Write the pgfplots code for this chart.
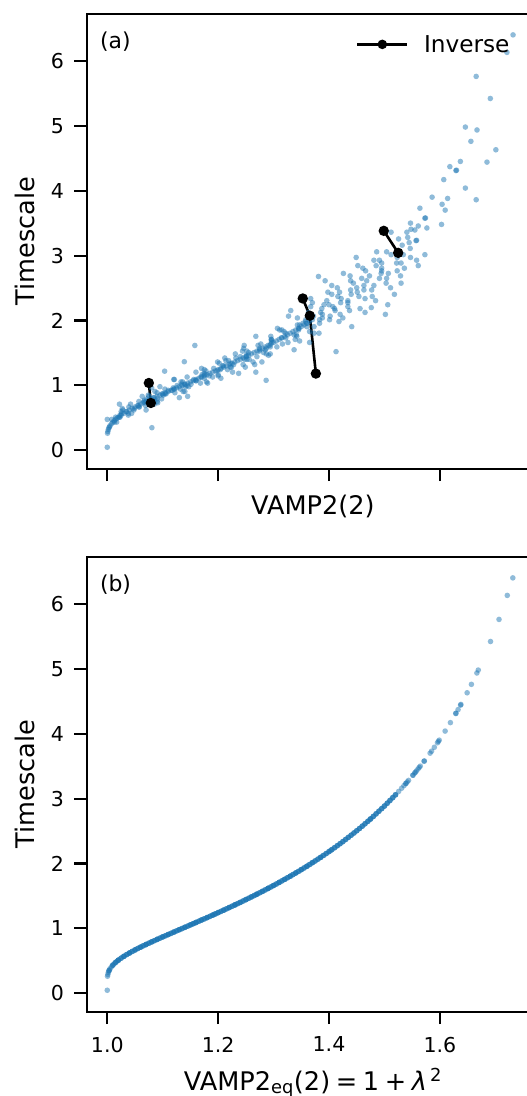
\documentclass[border=0pt]{standalone}
\usepackage{fontspec}
\setmainfont{DejaVu Sans}
\usepackage{pgfplots}
\usepackage{pgfplotstable}
\pgfplotsset{compat=1.18}
\definecolor{tabblue}{RGB}{31,119,180}
\newcommand{\tickfont}{\fontsize{20.6}{24}\selectfont}
\newcommand{\labfont}{\fontsize{25.7}{30}\selectfont}
\newcommand{\legfont}{\fontsize{23.3}{27}\selectfont}
\newcommand{\panfont}{\fontsize{22}{26}\selectfont}

% points lying on the equilibrium curve in both panels
\pgfplotstableread{
x t
1.0000 0.047
1.0005 0.263
1.0010 0.290
1.0020 0.322
1.0030 0.344
1.0040 0.362
1.0050 0.378
1.0075 0.409
1.0100 0.434
1.0125 0.456
1.0150 0.476
1.0175 0.494
1.020 0.511
1.025 0.542
1.030 0.570
1.035 0.597
1.040 0.621
1.045 0.645
1.050 0.668
1.055 0.690
1.060 0.711
1.065 0.732
1.070 0.752
1.075 0.772
1.080 0.792
1.085 0.811
1.090 0.831
1.095 0.850
1.100 0.869
1.105 0.887
1.110 0.906
1.115 0.924
1.120 0.943
1.125 0.962
1.130 0.980
1.135 0.998
1.140 1.017
1.145 1.035
1.150 1.054
1.155 1.072
1.160 1.091
1.165 1.110
1.170 1.129
1.175 1.147
1.180 1.166
1.185 1.185
1.190 1.204
1.195 1.223
1.200 1.243
1.205 1.262
1.210 1.281
1.215 1.301
1.220 1.321
1.225 1.341
1.230 1.361
1.235 1.381
1.240 1.401
1.245 1.422
1.250 1.443
1.255 1.464
1.260 1.485
1.265 1.506
1.270 1.528
1.275 1.549
1.280 1.571
1.285 1.593
1.290 1.616
1.295 1.638
1.300 1.661
1.305 1.684
1.310 1.708
1.315 1.732
1.320 1.756
1.325 1.780
1.330 1.804
1.335 1.829
1.340 1.854
1.345 1.879
1.350 1.905
1.355 1.931
1.360 1.957
1.365 1.984
1.370 2.012
}\coretab

% xeq: VAMP2_eq (panel b), xa: VAMP2 (panel a), t: timescale
\pgfplotstableread{
xeq xa t
1.010 1.013 0.434
1.015 1.008 0.476
1.020 1.022 0.511
1.025 1.038 0.542
1.030 1.026 0.570
1.035 1.034 0.597
1.040 1.048 0.621
1.045 1.027 0.645
1.050 1.058 0.668
1.055 1.056 0.690
1.060 1.042 0.711
1.065 1.091 0.732
1.070 1.066 0.752
1.075 1.085 0.772
1.080 1.071 0.792
1.085 1.130 0.811
1.090 1.075 0.831
1.095 1.101 0.850
1.100 1.099 0.869
1.105 1.122 0.887
1.110 1.086 0.906
1.115 1.117 0.924
1.120 1.132 0.943
1.125 1.119 0.962
1.130 1.095 0.980
1.135 1.144 0.998
1.140 1.140 1.017
1.145 1.168 1.035
1.150 1.136 1.054
1.155 1.160 1.072
1.160 1.156 1.091
1.165 1.205 1.110
1.170 1.144 1.129
1.175 1.184 1.147
1.180 1.200 1.166
1.185 1.175 1.185
1.190 1.268 1.204
1.195 1.178 1.223
1.200 1.204 1.243
1.205 1.170 1.262
1.210 1.224 1.281
1.215 1.208 1.301
1.220 1.245 1.321
1.225 1.222 1.341
1.230 1.279 1.361
1.235 1.214 1.381
1.240 1.248 1.401
1.245 1.232 1.422
1.250 1.251 1.443
1.255 1.291 1.464
1.260 1.231 1.485
1.265 1.282 1.506
1.270 1.244 1.528
1.275 1.285 1.549
1.280 1.275 1.571
1.285 1.306 1.593
1.290 1.293 1.616
1.295 1.277 1.638
1.300 1.365 1.661
1.305 1.296 1.684
1.310 1.339 1.708
1.315 1.314 1.732
1.320 1.295 1.756
1.325 1.337 1.780
1.330 1.373 1.804
1.335 1.319 1.829
1.340 1.345 1.854
1.345 1.307 1.879
1.350 1.373 1.905
1.355 1.347 1.931
1.360 1.360 1.957
1.365 1.418 1.984
1.370 1.358 2.012
1.010 1.017 0.434
1.015 1.000 0.476
1.020 1.023 0.511
1.025 1.023 0.542
1.030 1.044 0.570
1.035 1.025 0.597
1.040 1.070 0.621
1.045 1.049 0.645
1.050 1.039 0.668
1.055 1.069 0.690
1.060 1.022 0.711
1.065 1.068 0.732
1.070 1.090 0.752
1.075 1.067 0.772
1.080 1.090 0.792
1.085 1.083 0.811
1.090 1.145 0.831
1.095 1.074 0.850
1.100 1.106 0.869
1.105 1.090 0.887
1.110 1.137 0.906
1.115 1.110 0.924
1.120 1.121 0.943
1.125 1.080 0.962
1.130 1.147 0.980
1.135 1.126 0.998
1.140 1.151 1.017
1.145 1.181 1.035
1.150 1.133 1.054
1.155 1.160 1.072
1.160 1.121 1.091
1.165 1.175 1.110
1.170 1.169 1.129
1.175 1.200 1.147
1.180 1.171 1.166
1.185 1.237 1.185
1.190 1.160 1.204
1.195 1.198 1.223
1.200 1.217 1.243
1.205 1.192 1.262
1.210 1.249 1.281
1.215 1.210 1.301
1.220 1.228 1.321
1.225 1.202 1.341
1.230 1.263 1.361
1.235 1.219 1.381
1.240 1.252 1.401
1.245 1.212 1.422
1.250 1.270 1.443
1.255 1.251 1.464
1.260 1.287 1.485
1.265 1.255 1.506
1.270 1.274 1.528
1.275 1.337 1.549
1.280 1.246 1.571
1.285 1.294 1.593
1.290 1.272 1.616
1.295 1.316 1.638
1.300 1.297 1.661
1.305 1.347 1.684
1.310 1.296 1.708
1.315 1.322 1.732
1.320 1.268 1.756
1.325 1.341 1.780
1.330 1.322 1.804
1.335 1.365 1.829
1.340 1.315 1.854
1.345 1.346 1.879
1.350 1.441 1.905
1.355 1.343 1.931
1.360 1.383 1.957
1.365 1.358 1.984
1.370 1.383 2.012
1.020 1.015 0.511
1.030 1.038 0.570
1.040 1.028 0.621
1.050 1.057 0.668
1.060 1.085 0.711
1.070 1.057 0.752
1.080 1.098 0.792
1.090 1.063 0.831
1.100 1.104 0.869
1.110 1.140 0.906
1.120 1.104 0.943
1.130 1.141 0.980
1.140 1.134 1.017
1.150 1.179 1.054
1.160 1.120 1.091
1.170 1.190 1.129
1.180 1.176 1.166
1.190 1.226 1.204
1.200 1.175 1.243
1.210 1.222 1.281
1.220 1.266 1.321
1.230 1.199 1.361
1.240 1.256 1.401
1.250 1.240 1.443
1.260 1.294 1.485
1.270 1.252 1.528
1.280 1.287 1.571
1.290 1.247 1.616
1.300 1.326 1.661
1.310 1.296 1.708
1.320 1.342 1.756
1.330 1.382 1.804
1.340 1.311 1.854
1.350 1.360 1.905
1.360 1.353 1.957
1.370 1.401 2.012
1.375 1.388 2.039
1.375 1.343 2.039
1.375 1.425 2.039
1.380 1.372 2.067
1.380 1.402 2.067
1.380 1.327 2.067
1.385 1.388 2.095
1.385 1.420 2.095
1.385 1.367 2.095
1.390 1.465 2.124
1.390 1.385 2.124
1.390 1.363 2.124
1.395 1.411 2.153
1.395 1.437 2.153
1.395 1.331 2.153
1.400 1.410 2.183
1.400 1.387 2.183
1.400 1.456 2.183
1.405 1.367 2.213
1.405 1.407 2.213
1.405 1.434 2.213
1.410 1.391 2.243
1.410 1.506 2.243
1.410 1.400 2.243
1.415 1.434 2.274
1.415 1.370 2.274
1.415 1.421 2.274
1.420 1.484 2.305
1.420 1.396 2.305
1.420 1.434 2.305
1.425 1.422 2.337
1.425 1.465 2.337
1.425 1.367 2.337
1.430 1.454 2.370
1.430 1.416 2.370
1.430 1.478 2.370
1.435 1.405 2.403
1.435 1.440 2.403
1.435 1.518 2.403
1.440 1.419 2.436
1.440 1.451 2.436
1.440 1.398 2.436
1.445 1.477 2.470
1.445 1.439 2.470
1.445 1.463 2.470
1.450 1.511 2.504
1.450 1.415 2.504
1.450 1.450 2.504
1.455 1.481 2.539
1.455 1.405 2.539
1.455 1.463 2.539
1.460 1.503 2.575
1.460 1.444 2.575
1.460 1.530 2.575
1.465 1.439 2.612
1.465 1.468 2.612
1.465 1.393 2.612
1.470 1.491 2.649
1.470 1.504 2.649
1.470 1.459 2.649
1.475 1.529 2.687
1.475 1.473 2.687
1.475 1.438 2.687
1.480 1.494 2.725
1.480 1.507 2.725
1.480 1.426 2.725
1.485 1.495 2.765
1.485 1.523 2.765
1.485 1.466 2.765
1.490 1.495 2.805
1.490 1.461 2.805
1.490 1.536 2.805
1.495 1.485 2.845
1.495 1.561 2.845
1.495 1.452 2.845
1.500 1.522 2.885
1.500 1.495 2.885
1.500 1.530 2.885
1.505 1.491 2.928
1.505 1.558 2.928
1.505 1.481 2.928
1.510 1.523 2.971
1.510 1.449 2.971
1.510 1.547 2.971
1.515 1.512 3.014
1.515 1.534 3.014
1.515 1.573 3.014
1.520 1.486 3.058
1.520 1.526 3.058
1.520 1.504 3.058
1.7316 1.732 6.40
1.7216 1.721 6.13
1.7067 1.6655 5.76
1.6914 1.691 5.42
1.6693 1.646 4.98
1.6668 1.667 4.935
1.6569 1.656 4.76
1.6492 1.701 4.63
1.6373 1.685 4.44
1.6380 1.637 4.45
1.6328 1.618 4.37
1.6287 1.629 4.31
1.6290 1.630 4.315
1.6095 1.646 4.04
1.6190 1.607 4.17
1.5957 1.6655 3.86
1.5988 1.586 3.90
1.5973 1.614 3.88
1.5900 1.604 3.79
1.5824 1.6096 3.70
1.5850 1.564 3.73
1.5715 1.573 3.575
1.5720 1.574 3.58
1.5628 1.603 3.48
1.5577 1.5766 3.425
1.5647 1.547 3.50
1.5606 1.561 3.456
1.5514 1.5405 3.36
1.5558 1.548 3.405
1.5547 1.555 3.394
1.5384 1.557 3.23
1.5389 1.558 3.235
1.5435 1.542 3.28
1.5353 1.5446 3.20
1.5311 1.532 3.16
1.5410 1.5255 3.256
1.5514 1.512 3.36
1.5257 1.5465 3.11
1.2899 1.158 1.615
1.1938 1.1035 1.219
1.2310 1.139 1.365
1.2683 1.4127 1.52
1.3848 1.5017 2.094
1.4026 1.4763 2.198
1.0032 1.0805 0.348
1.1564 1.2866 1.078
1.4739 1.381 2.678
}\noisytab

\pgfplotsset{
  panel/.style={
    scale only axis, width=452.5bp, height=454.5bp,
    xmin=0.9629, xmax=1.7792, ymin=-0.282, ymax=6.72,
    xtick={1.0,1.2,1.4,1.6}, ytick={0,1,2,3,4,5,6},
    tick align=outside, tick pos=left, major tick length=12.5bp,
    tick style={line width=2.1bp, black},
    axis line style={line width=2.1bp, black},
    axis on top,
    ticklabel style={font=\tickfont, /pgf/number format/assume math mode=true},
    xticklabel style={anchor=north, inner sep=0pt, yshift=-12.5bp,
      /pgf/number format/fixed, /pgf/number format/fixed zerofill,
      /pgf/number format/precision=1},
    yticklabel style={anchor=east, inner sep=0pt, xshift=-10bp},
    label style={font=\labfont},
    ylabel={Timescale},
    every axis y label/.style={at={(axis description cs:-0.1366,0.5)}, rotate=90, anchor=center, font=\labfont},
  },
  scat/.style={only marks, color=tabblue, mark=*, mark size=2.8bp,
    mark options={draw=tabblue, fill=tabblue, fill opacity=0.5, draw opacity=0, line width=0pt}},
}

\begin{document}
\begin{tikzpicture}
\begin{axis}[panel, at={(86.7bp,-468.6bp)}, anchor=south west,
  xticklabels={},
  xlabel={VAMP2(2)},
  xlabel style={at={(axis description cs:0.5,-0.1019)}, anchor=base},
  legend style={draw=none, fill=none, inner sep=0pt, outer sep=0pt,
    nodes={inner sep=0pt, outer sep=0pt}, row sep=0pt, column sep=0pt,
    font=\legfont, at={(axis description cs:0.9344,0.9334)}, anchor=east},
  legend image code/.code={
    \path[draw=none, fill=none] (0bp,0bp) -- (66.7bp,0bp);
    \draw[black, line width=2.5bp] (0bp,0bp) -- (50bp,0bp);
    \fill[black] (25bp,0bp) circle (3.4bp);
  },
]
\addplot[scat, forget plot] table[x=x, y=t] {\coretab};
\addplot[scat, forget plot] table[x=xa, y=t] {\noisytab};
\addplot[black, line width=2.6bp, mark=*, mark size=3.8bp,
  mark options={fill=black, draw=none}, unbounded coords=jump] table {
x y
1.0750 1.037
1.0786 0.729
nan nan
1.3527 2.339
1.3654 2.073
1.3763 1.182
nan nan
1.4988 3.381
1.5248 3.042
};
\addlegendentry{Inverse}
\node[anchor=base west, inner sep=0pt, font=\panfont] at (axis description cs:0.029,0.925) {(a)};
\end{axis}

\begin{axis}[panel, at={(86.7bp,-1011.6bp)}, anchor=south west,
  xlabel={VAMP2\textsubscript{eq}(2)\hspace{0.22em}=\hspace{0.22em}1\hspace{0.22em}+\hspace{0.22em}\textit{λ}\textsuperscript{\,2}},
  xlabel style={at={(axis description cs:0.5,-0.1725)}, anchor=base},
]
\addplot[scat] table[x=x, y=t] {\coretab};
\addplot[scat] table[x=xeq, y=t] {\noisytab};
\node[anchor=base west, inner sep=0pt, font=\panfont] at (axis description cs:0.029,0.925) {(b)};
\end{axis}

\pgfresetboundingbox
\path[use as bounding box] (0bp,0bp) rectangle (527bp,-1096bp);
\end{tikzpicture}
\end{document}
